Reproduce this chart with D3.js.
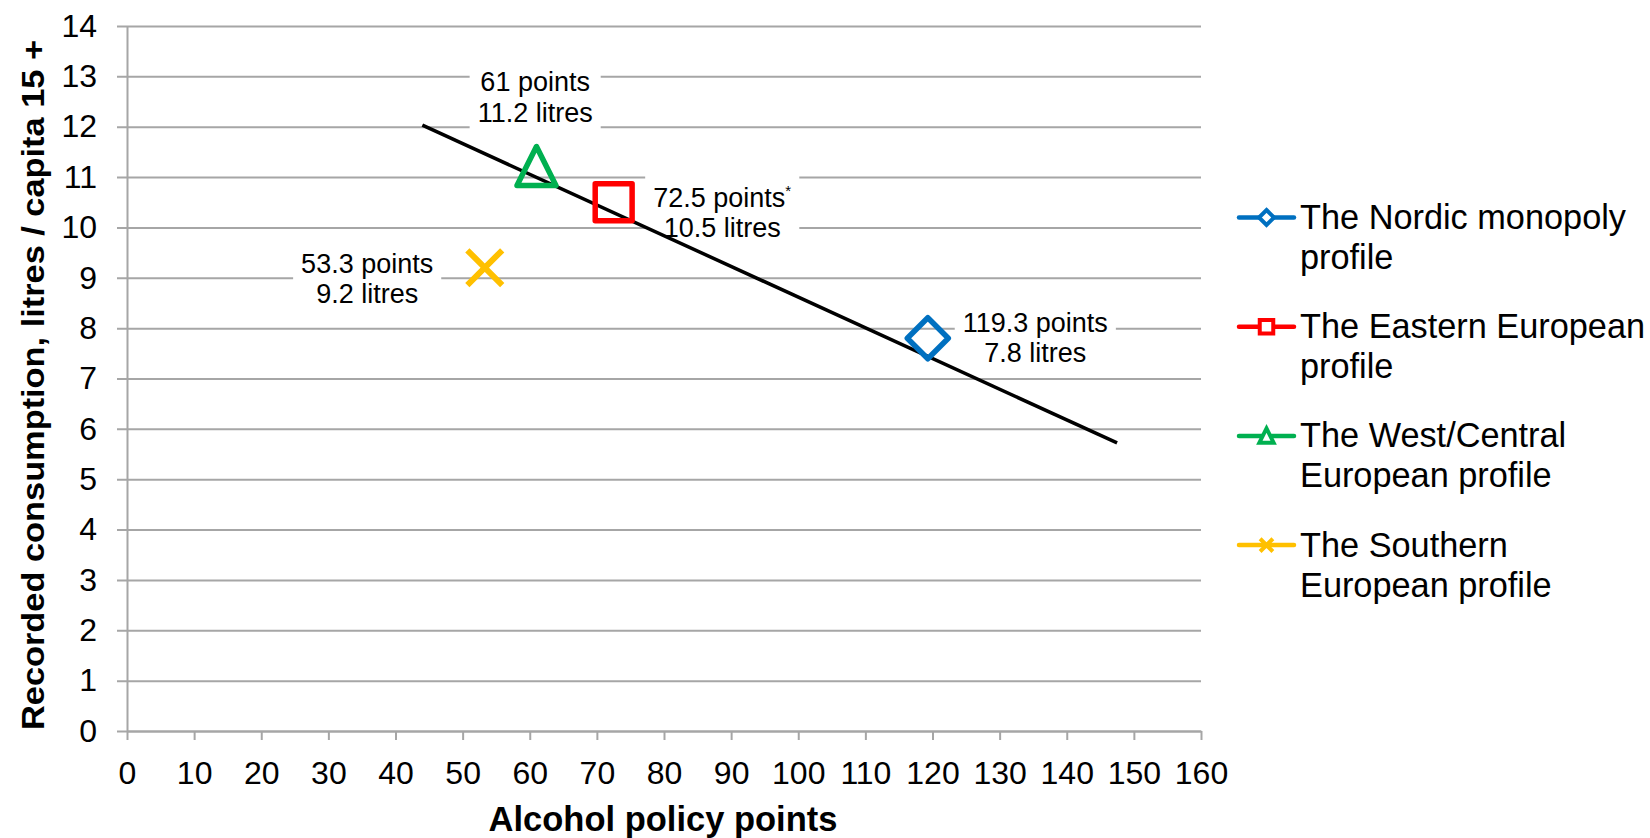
<!DOCTYPE html>
<html>
<head>
<meta charset="utf-8">
<script src="https://cdn.jsdelivr.net/npm/d3@7"></script>
<style>
  html, body { margin: 0; padding: 0; background: #ffffff; }
  svg { display: block; font-family: "Liberation Sans", Arial, sans-serif; }
</style>
</head>
<body>
<svg id="chart" width="1650" height="838"></svg>
<script>
// ---------- data ----------
const profiles = ["The Nordic monopoly profile", "The Eastern European profile",
                  "The West/Central European profile", "The Southern European profile"];
const legendLines = [["The Nordic monopoly", "profile"], ["The Eastern European", "profile"],
                     ["The West/Central", "European profile"], ["The Southern", "European profile"]];
const policyPoints = [119.3, 72.5, 61, 53.3];
const litres = [7.8, 10.5, 11.2, 9.2];
const labelLine1 = ["119.3 points", "72.5 points", "61 points", "53.3 points"];
const labelSup = ["", "*", "", ""];
const labelLine2 = ["7.8 litres", "10.5 litres", "11.2 litres", "9.2 litres"];
const markerShapes = ["diamond", "square", "triangle", "cross"];
const trendX = [44, 147.5];
const trendY = [12.03, 5.72];
const xTicks = [0, 10, 20, 30, 40, 50, 60, 70, 80, 90, 100, 110, 120, 130, 140, 150, 160];
const yTicks = [0, 1, 2, 3, 4, 5, 6, 7, 8, 9, 10, 11, 12, 13, 14];
const xTitle = "Alcohol policy points";
const yTitle = "Recorded consumption, litres / capita 15 +";

// ---------- layout / style ----------
const colors = ["#0070C0", "#FF0000", "#00B050", "#FFC000"];
const gridColor = "#A6A6A6";
const plot = { left: 127, right: 1201, top: 26, bottom: 731 };
// label offsets relative to the marker (centre x, first baseline)
const labelOffsets = [[107.5, -6.5], [108.5, 4.5], [-1.3, -76], [-117.6, 5]];
const labelLineHeight = 30.5;

const svg = d3.select("#chart");
const x = d3.scaleLinear().domain([0, 160]).range([plot.left, plot.right]);
const y = d3.scaleLinear().domain([0, 14]).range([plot.bottom, plot.top]);

// ---------- y axis with gridlines ----------
const yAxis = svg.append("g")
  .attr("transform", `translate(${plot.left},0)`)
  .call(d3.axisLeft(y).tickValues(yTicks).tickSize(-(plot.right - plot.left)).tickSizeOuter(0).tickPadding(30));
yAxis.select(".domain").attr("stroke", gridColor).attr("stroke-width", 2);
yAxis.selectAll(".tick line").attr("x1", -10).attr("stroke", gridColor).attr("stroke-width", 2);
yAxis.selectAll(".tick text")
  .attr("font-size", 32).attr("fill", "#000").attr("font-family", "Liberation Sans, Arial, sans-serif");

// ---------- x axis ----------
const xAxis = svg.append("g")
  .attr("transform", `translate(0,${plot.bottom})`)
  .call(d3.axisBottom(x).tickValues(xTicks).tickSize(9).tickSizeOuter(0).tickPadding(21));
xAxis.select(".domain").attr("stroke", gridColor).attr("stroke-width", 2);
xAxis.selectAll(".tick line").attr("stroke", gridColor).attr("stroke-width", 2);
xAxis.selectAll(".tick text")
  .attr("font-size", 32).attr("fill", "#000").attr("font-family", "Liberation Sans, Arial, sans-serif");

// ---------- axis titles ----------
svg.append("text")
  .attr("x", 663).attr("y", 831)
  .attr("text-anchor", "middle")
  .attr("font-size", 34.5).attr("font-weight", "bold")
  .text(xTitle);

svg.append("text")
  .attr("transform", "translate(44,385) rotate(-90)")
  .attr("text-anchor", "middle")
  .attr("font-size", 31).attr("font-weight", "bold")
  .attr("textLength", 690).attr("lengthAdjust", "spacingAndGlyphs")
  .text(yTitle);

// ---------- label boxes & labels ----------
const boxLayer = svg.append("g");
const trendLayer = svg.append("g");
const markerLayer = svg.append("g");
const labelLayer = svg.append("g");

policyPoints.forEach((p, i) => {
  const cx = x(p) + labelOffsets[i][0];
  const by = y(litres[i]) + labelOffsets[i][1];
  const g = labelLayer.append("g");
  const t1 = g.append("text").attr("x", cx).attr("y", by)
    .attr("text-anchor", "middle").attr("font-size", 27).attr("fill", "#000");
  t1.append("tspan").text(labelLine1[i]);
  if (labelSup[i]) {
    t1.append("tspan").attr("font-size", 15).attr("dy", -11).text(labelSup[i]);
  }
  g.append("text").attr("x", cx).attr("y", by + labelLineHeight)
    .attr("text-anchor", "middle").attr("font-size", 27).attr("fill", "#000")
    .text(labelLine2[i]);
  const bb = g.node().getBBox();
  boxLayer.append("rect")
    .attr("x", bb.x - 8).attr("y", bb.y - 6)
    .attr("width", bb.width + 16).attr("height", bb.height + 12)
    .attr("fill", "#fff");
});

// ---------- trend line ----------
trendLayer.append("line")
  .attr("x1", x(trendX[0])).attr("y1", y(trendY[0]))
  .attr("x2", x(trendX[1])).attr("y2", y(trendY[1]))
  .attr("stroke", "#000").attr("stroke-width", 3.5);

// ---------- markers ----------
function markerPath(shape, r) {
  const p = d3.path();
  if (shape === "diamond") {
    p.moveTo(0, -r); p.lineTo(r, 0); p.lineTo(0, r); p.lineTo(-r, 0); p.closePath();
  } else if (shape === "square") {
    const h = r * 0.9;
    p.rect(-h, -h, 2 * h, 2 * h);
  } else if (shape === "triangle") {
    const h = r * 0.95;
    p.moveTo(0, -h * 1.05); p.lineTo(h, h * 0.95); p.lineTo(-h, h * 0.95); p.closePath();
  } else {
    const h = r * 0.85;
    p.moveTo(-h, -h); p.lineTo(h, h); p.moveTo(h, -h); p.lineTo(-h, h);
  }
  return p.toString();
}

policyPoints.forEach((p, i) => {
  markerLayer.append("path")
    .attr("transform", `translate(${x(p)},${y(litres[i])})`)
    .attr("d", markerPath(markerShapes[i], 20.5))
    .attr("fill", "none")
    .attr("stroke", colors[i])
    .attr("stroke-width", markerShapes[i] === "cross" ? 6 : 5.5)
    .attr("stroke-linejoin", "round");
});

// ---------- legend ----------
const legendX = 1239, legendLineLen = 55, legendTextX = 1300;
const legendY0 = 217.5, legendStep = 109.2;
profiles.forEach((name, i) => {
  const ly = legendY0 + i * legendStep;
  const g = svg.append("g").attr("class", "legend-item");
  g.append("line")
    .attr("x1", legendX).attr("x2", legendX + legendLineLen)
    .attr("y1", ly).attr("y2", ly)
    .attr("stroke", colors[i]).attr("stroke-width", 4.5).attr("stroke-linecap", "round");
  g.append("path")
    .attr("transform", `translate(${legendX + legendLineLen / 2},${ly})`)
    .attr("d", markerPath(markerShapes[i], 7.5))
    .attr("fill", markerShapes[i] === "cross" ? "none" : "#fff")
    .attr("stroke", colors[i]).attr("stroke-width", 4);
  const t = g.append("text").attr("font-size", 34.3).attr("fill", "#000");
  legendLines[i].forEach((ln, k) => {
    t.append("tspan").attr("x", legendTextX).attr("y", ly + 11.5 + k * 40).text(ln);
  });
});
</script>
</body>
</html>
